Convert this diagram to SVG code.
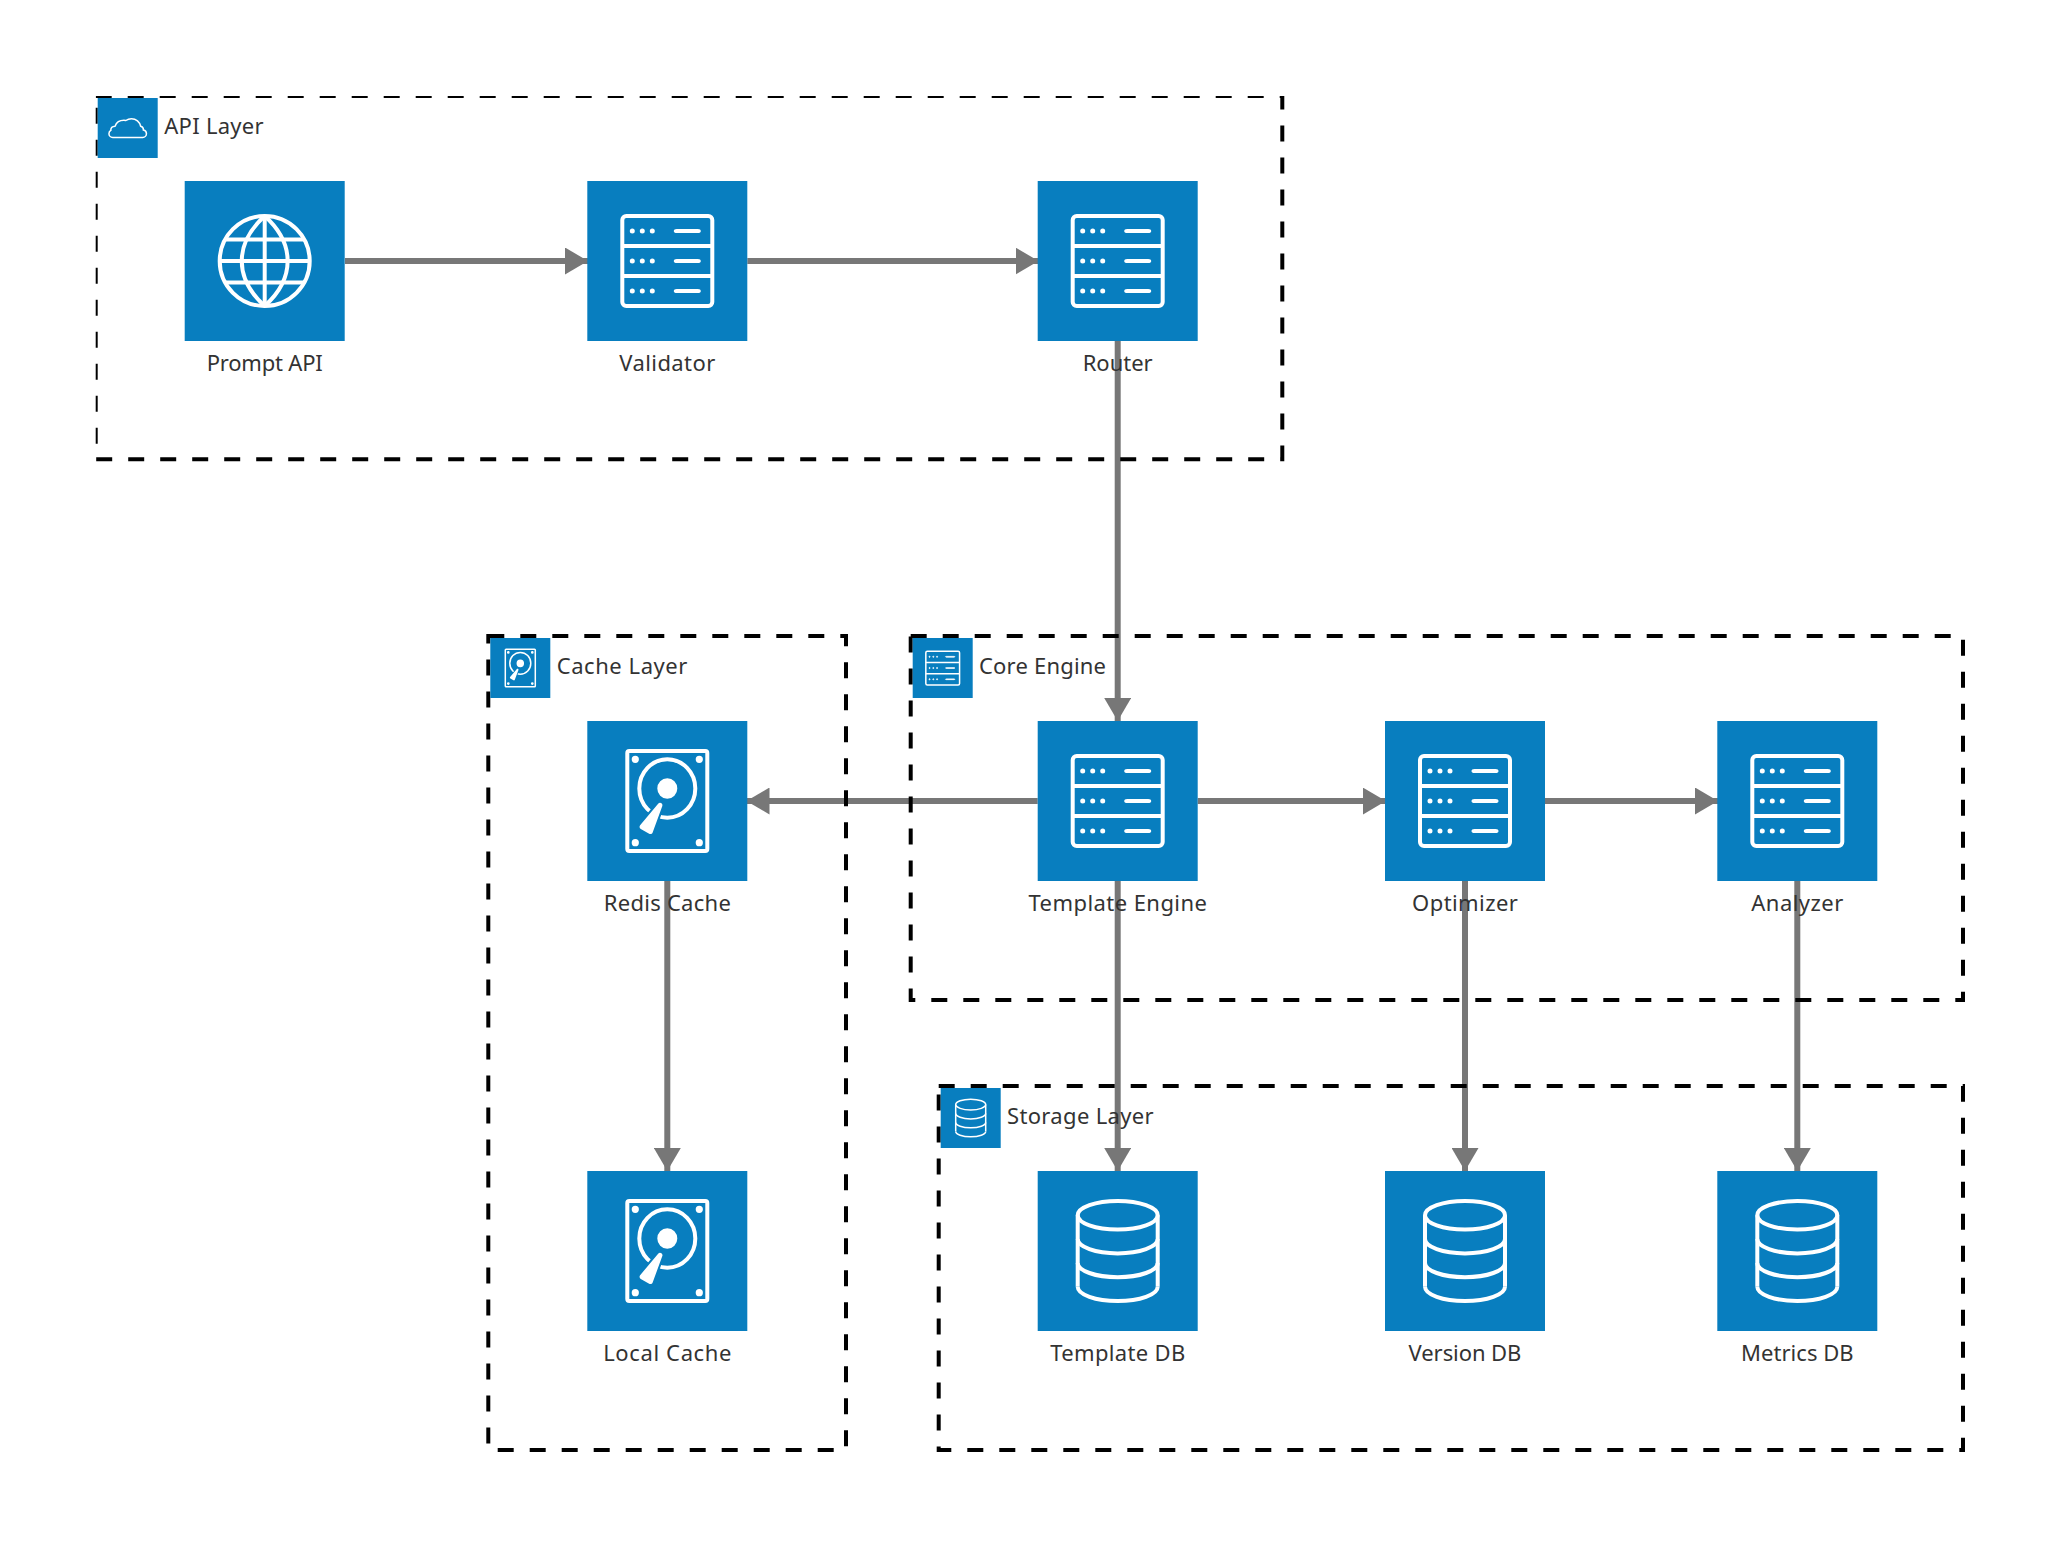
<svg xmlns="http://www.w3.org/2000/svg" xmlns:xlink="http://www.w3.org/1999/xlink" width="2059" height="1546" viewBox="0 0 2059 1546">
<style>
.bg{fill:#087ebf}
.ln{fill:none;stroke:#fff;stroke-miterlimit:10;stroke-width:2}
.dot{fill:#fff;stroke:#fff;stroke-miterlimit:10;stroke-width:1}
.solid{fill:#fff;stroke:#fff;stroke-miterlimit:10;stroke-width:2}
.edge{fill:none;stroke:#777;stroke-width:6;marker-end:url(#arrow)}
.grp{fill:none;stroke:#000;stroke-width:4;stroke-dasharray:16}
text{font-family:"Noto Sans","DejaVu Sans",sans-serif;font-size:22px;fill:#333}
.lbl{text-anchor:middle}
</style>
<defs>
<marker id="arrow" markerUnits="userSpaceOnUse" markerWidth="24" markerHeight="27" refX="23" refY="13.5" orient="auto"><path d="M0 0L23 13.5L0 27Z" fill="#777"/></marker>
<clipPath id="apiclip"><rect x="95.7" y="96" width="1200" height="380"/></clipPath>
<g id="server"><rect class="bg" width="80" height="80"/><rect class="ln" x="17.5" y="17.5" width="45" height="45" rx="2" ry="2"/><line class="ln" x1="17.5" y1="32.5" x2="62.5" y2="32.5"/><line class="ln" x1="17.5" y1="47.5" x2="62.5" y2="47.5"/>
<path class="dot" d="M56.25 25c0 .27-.45.5-1 .5h-10.5c-.55 0-1-.23-1-.5s.45-.5 1-.5h10.5c.55 0 1 .23 1 .5Z"/><path class="dot" d="M56.25 40c0 .27-.45.5-1 .5h-10.5c-.55 0-1-.23-1-.5s.45-.5 1-.5h10.5c.55 0 1 .23 1 .5Z"/><path class="dot" d="M56.25 55c0 .27-.45.5-1 .5h-10.5c-.55 0-1-.23-1-.5s.45-.5 1-.5h10.5c.55 0 1 .23 1 .5Z"/>
<circle class="dot" cx="32.5" cy="25" r=".75"/><circle class="dot" cx="27.5" cy="25" r=".75"/><circle class="dot" cx="22.5" cy="25" r=".75"/><circle class="dot" cx="32.5" cy="40" r=".75"/><circle class="dot" cx="27.5" cy="40" r=".75"/><circle class="dot" cx="22.5" cy="40" r=".75"/><circle class="dot" cx="32.5" cy="55" r=".75"/><circle class="dot" cx="27.5" cy="55" r=".75"/><circle class="dot" cx="22.5" cy="55" r=".75"/></g>
<g id="disk"><rect class="bg" width="80" height="80"/><rect class="ln" x="20" y="15" width="40" height="50" rx="1" ry="1"/><ellipse class="solid" cx="24" cy="19.17" rx=".8" ry=".83"/><ellipse class="solid" cx="56" cy="19.17" rx=".8" ry=".83"/><ellipse class="solid" cx="24" cy="60.83" rx=".8" ry=".83"/><ellipse class="solid" cx="56" cy="60.83" rx=".8" ry=".83"/><ellipse class="ln" cx="40" cy="33.75" rx="14" ry="14.58"/><ellipse class="solid" cx="40" cy="33.75" rx="4" ry="4.17"/><path d="M37.51 42.52l-4.83 13.22c-.26.71-1.1 1.02-1.76.64l-4.18-2.42c-.66-.38-.81-1.26-.33-1.84l9.01-10.8c.88-1.05 2.56-.08 2.09 1.2Z" fill="#fff" stroke="#087ebf" stroke-miterlimit="10" stroke-width="2" paint-order="stroke"/></g>
<g id="database"><rect class="bg" width="80" height="80"/><path class="ln" d="M20 57.86c0 3.94 8.95 7.14 20 7.14s20-3.2 20-7.14"/><path class="ln" d="M20 45.95c0 3.94 8.95 7.14 20 7.14s20-3.2 20-7.14"/><path class="ln" d="M20 34.05c0 3.94 8.95 7.14 20 7.14s20-3.2 20-7.14"/><ellipse class="ln" cx="40" cy="22.14" rx="20" ry="7.14"/><line class="ln" x1="20" y1="57.86" x2="20" y2="22.14"/><line class="ln" x1="60" y1="57.86" x2="60" y2="22.14"/></g>
<g id="internet"><rect class="bg" width="80" height="80"/><circle class="ln" cx="40" cy="40" r="22.5"/><line class="ln" x1="40" y1="17.5" x2="40" y2="62.5"/><line class="ln" x1="17.5" y1="40" x2="62.5" y2="40"/><path class="ln" d="M39.99 17.51c-15.28 13.78-15.28 31.2 0 44.98"/><path class="ln" d="M40.01 17.51c15.28 13.78 15.28 31.2 0 44.98"/><line class="ln" x1="20.2" y1="29.3" x2="59.8" y2="29.3"/><line class="ln" x1="20.2" y1="50.7" x2="59.8" y2="50.7"/></g>
<g id="cloud"><rect class="bg" width="80" height="80"/><path class="ln" d="M65 47.5c0 2.76-2.24 5-5 5H20c-2.76 0-5-2.24-5-5 0-1.87 1.03-3.51 2.56-4.36-.04-.21-.06-.42-.06-.64 0-2.6 2.48-4.74 5.65-4.97 1.65-4.51 6.34-7.76 11.85-7.76.86 0 1.69.08 2.5.23 2.09-1.57 4.69-2.5 7.5-2.5 6.1 0 11.19 4.38 12.28 10.17 2.14.56 3.72 2.51 3.72 4.83 0 .03 0 .07-.01.1 2.29.46 4.01 2.48 4.01 4.9Z"/></g>
</defs>
<rect width="2059" height="1546" fill="#fff"/>
<g id="connectors">
<line class="edge" x1="345" y1="261" x2="588" y2="261"/>
<line class="edge" x1="747.3" y1="261" x2="1038.5" y2="261"/>
<line class="edge" x1="1117.7" y1="341" x2="1117.7" y2="721"/>
<line class="edge" x1="1037.7" y1="801" x2="746.5" y2="801"/>
<line class="edge" x1="1197.7" y1="801" x2="1385.8" y2="801"/>
<line class="edge" x1="1545" y1="801" x2="1718" y2="801"/>
<line class="edge" x1="667.3" y1="881" x2="667.3" y2="1171"/>
<line class="edge" x1="1117.7" y1="881" x2="1117.7" y2="1171"/>
<line class="edge" x1="1465" y1="881" x2="1465" y2="1171"/>
<line class="edge" x1="1797.3" y1="881" x2="1797.3" y2="1171"/>
</g>
<g id="group-api"><rect class="grp" x="95.7" y="96" width="1186.6" height="363.3" clip-path="url(#apiclip)"/><use xlink:href="#cloud" href="#cloud" transform="translate(97.7 98) scale(.75)"/><text x="164.3" y="134" textLength="99.3">API Layer</text></g>
<g id="group-cache"><rect class="grp" x="488.3" y="636" width="357.7" height="814"/><use xlink:href="#disk" href="#disk" transform="translate(490.3 638) scale(.75)"/><text x="556.7" y="674" textLength="130.7">Cache Layer</text></g>
<g id="group-core"><rect class="grp" x="910.7" y="636" width="1052.3" height="364"/><use xlink:href="#server" href="#server" transform="translate(912.7 638) scale(.75)"/><text x="979" y="674" textLength="127">Core Engine</text></g>
<g id="group-storage"><rect class="grp" x="938.7" y="1086" width="1024.3" height="364"/><use xlink:href="#database" href="#database" transform="translate(940.7 1088) scale(.75)"/><text x="1007" y="1124" textLength="146.7">Storage Layer</text></g>
<g id="prompt-api"><use xlink:href="#internet" href="#internet" transform="translate(184.7 181) scale(2)"/><text class="lbl" x="264.7" y="370.5" textLength="116">Prompt API</text></g>
<g id="validator"><use xlink:href="#server" href="#server" transform="translate(587.3 181) scale(2)"/><text class="lbl" x="667.3" y="370.5" textLength="96">Validator</text></g>
<g id="router"><use xlink:href="#server" href="#server" transform="translate(1037.7 181) scale(2)"/><text class="lbl" x="1117.7" y="370.5" textLength="70">Router</text></g>
<g id="template-engine"><use xlink:href="#server" href="#server" transform="translate(1037.7 721) scale(2)"/><text class="lbl" x="1117.7" y="910.5" textLength="178.5">Template Engine</text></g>
<g id="optimizer"><use xlink:href="#server" href="#server" transform="translate(1385 721) scale(2)"/><text class="lbl" x="1465" y="910.5" textLength="105.8">Optimizer</text></g>
<g id="analyzer"><use xlink:href="#server" href="#server" transform="translate(1717.3 721) scale(2)"/><text class="lbl" x="1797.3" y="910.5" textLength="91.9">Analyzer</text></g>
<g id="redis-cache"><use xlink:href="#disk" href="#disk" transform="translate(587.3 721) scale(2)"/><text class="lbl" x="667.3" y="910.5" textLength="127">Redis Cache</text></g>
<g id="local-cache"><use xlink:href="#disk" href="#disk" transform="translate(587.3 1171) scale(2)"/><text class="lbl" x="667.3" y="1360.5" textLength="128.3">Local Cache</text></g>
<g id="template-db"><use xlink:href="#database" href="#database" transform="translate(1037.7 1171) scale(2)"/><text class="lbl" x="1117.7" y="1360.5" textLength="135">Template DB</text></g>
<g id="version-db"><use xlink:href="#database" href="#database" transform="translate(1385 1171) scale(2)"/><text class="lbl" x="1465" y="1360.5" textLength="112.8">Version DB</text></g>
<g id="metrics-db"><use xlink:href="#database" href="#database" transform="translate(1717.3 1171) scale(2)"/><text class="lbl" x="1797.3" y="1360.5" textLength="112.7">Metrics DB</text></g>
</svg>
